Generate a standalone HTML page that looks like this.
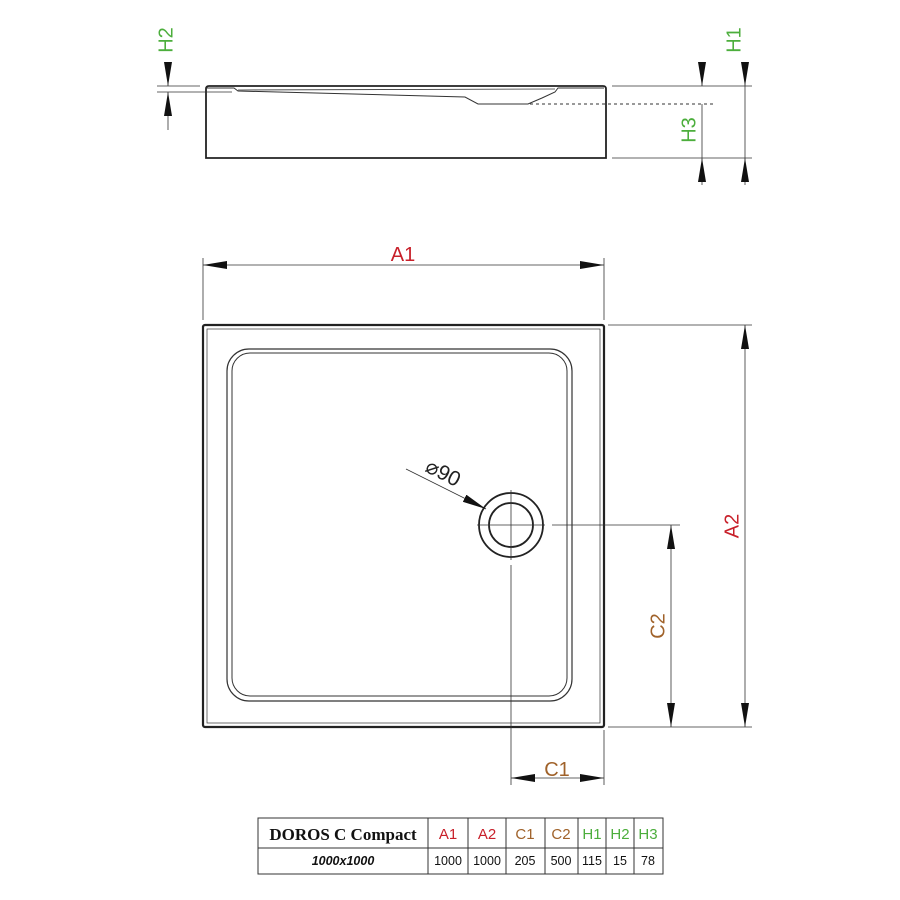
<!DOCTYPE html>
<html><head><meta charset="utf-8"><style>body{margin:0;background:#fff}svg{display:block}</style></head><body>
<svg width="900" height="900" viewBox="0 0 900 900" xmlns="http://www.w3.org/2000/svg" font-family="Liberation Sans, sans-serif">
<defs>
<marker id="al" viewBox="0 0 24 8" refX="24" refY="4" markerWidth="24" markerHeight="8" orient="auto-start-reverse" markerUnits="userSpaceOnUse"><path d="M0,0L24,4L0,8z" fill="#111"/></marker>
</defs>
<g stroke="#333" fill="none">
<path d="M206,158 L206,89 Q206,86 209,86 L603,86 Q606,86 606,89 L606,158 Z" stroke-width="1.8" stroke="#222"/>
<path d="M206,88 L234,88 L238,91 L465,97 L478,104 L528,104 L542,98 L555,92 L558,88 L604,88" stroke-width="1"/>
<path d="M238,90 L555,89" stroke-width="0.8"/>
<line x1="530" y1="104" x2="716" y2="104" stroke-dasharray="3,3" stroke-width="1"/>
<line x1="612" y1="86" x2="752" y2="86" stroke-width="0.8"/>
<line x1="612" y1="158" x2="752" y2="158" stroke-width="0.8"/>
<line x1="157" y1="86" x2="200" y2="86" stroke-width="0.8"/>
<line x1="157" y1="92" x2="232" y2="92" stroke-width="0.8"/>
<line x1="168" y1="68" x2="168" y2="86" marker-end="url(#al)" stroke-width="0.8"/>
<line x1="168" y1="130" x2="168" y2="92" marker-end="url(#al)" stroke-width="0.8"/>
<line x1="702" y1="68" x2="702" y2="86" marker-end="url(#al)" stroke-width="0.8"/>
<line x1="702" y1="104" x2="702" y2="158" stroke-width="0.8"/>
<line x1="702" y1="185" x2="702" y2="158" marker-end="url(#al)" stroke-width="0.8"/>
<line x1="745" y1="62" x2="745" y2="86" marker-end="url(#al)" stroke-width="0.8"/>
<line x1="745" y1="86" x2="745" y2="158" stroke-width="0.8"/>
<line x1="745" y1="185" x2="745" y2="158" marker-end="url(#al)" stroke-width="0.8"/>
<rect x="203" y="325" width="401" height="402" rx="2" stroke-width="2.2" stroke="#222"/>
<rect x="207" y="329" width="393" height="394" stroke-width="0.7"/>
<rect x="227" y="349" width="345" height="352" rx="22" stroke-width="1.2"/>
<rect x="232" y="353" width="335" height="343" rx="18" stroke-width="1"/>
<circle cx="511" cy="525" r="32" stroke-width="1.8" stroke="#222"/>
<circle cx="511" cy="525" r="22" stroke-width="1.8" stroke="#222"/>
<line x1="477" y1="525" x2="545" y2="525" stroke-width="0.8"/>
<line x1="511" y1="490" x2="511" y2="560" stroke-width="0.8"/>
<line x1="552" y1="525" x2="680" y2="525" stroke-width="0.8"/>
<line x1="511" y1="565" x2="511" y2="785" stroke-width="0.8"/>
<line x1="406" y1="469" x2="486" y2="509" marker-end="url(#al)" stroke-width="0.8"/>
<line x1="203" y1="258" x2="203" y2="320" stroke-width="0.8"/>
<line x1="604" y1="258" x2="604" y2="320" stroke-width="0.8"/>
<line x1="203" y1="265" x2="604" y2="265" marker-start="url(#al)" marker-end="url(#al)" stroke-width="0.8"/>
<line x1="608" y1="325" x2="752" y2="325" stroke-width="0.8"/>
<line x1="608" y1="727" x2="752" y2="727" stroke-width="0.8"/>
<line x1="745" y1="325" x2="745" y2="727" marker-start="url(#al)" marker-end="url(#al)" stroke-width="0.8"/>
<line x1="671" y1="525" x2="671" y2="727" marker-start="url(#al)" marker-end="url(#al)" stroke-width="0.8"/>
<line x1="604" y1="730" x2="604" y2="785" stroke-width="0.8"/>
<line x1="511" y1="778" x2="604" y2="778" marker-start="url(#al)" marker-end="url(#al)" stroke-width="0.8"/>
</g>
<g font-size="20">
<text x="167" y="40" fill="#4cae3c" transform="rotate(-90 167 40)" text-anchor="middle" dominant-baseline="middle">H2</text>
<text x="735" y="40" fill="#4cae3c" transform="rotate(-90 735 40)" text-anchor="middle" dominant-baseline="middle">H1</text>
<text x="690" y="130" fill="#4cae3c" transform="rotate(-90 690 130)" text-anchor="middle" dominant-baseline="middle">H3</text>
<text x="403" y="261" fill="#c8202a" text-anchor="middle">A1</text>
<text x="733" y="526" fill="#c8202a" transform="rotate(-90 733 526)" text-anchor="middle" dominant-baseline="middle">A2</text>
<text x="659" y="626" fill="#a0622a" transform="rotate(-90 659 626)" text-anchor="middle" dominant-baseline="middle">C2</text>
<text x="557" y="776" fill="#a0622a" text-anchor="middle">C1</text>
<text x="440" y="479" fill="#222" font-size="21" transform="rotate(27 440 479)" text-anchor="middle">⌀90</text>
</g>
<g stroke="#333" stroke-width="1" fill="none">
<rect x="258" y="818" width="405" height="56"/>
<line x1="258" y1="848" x2="663" y2="848"/>
<line x1="428" y1="818" x2="428" y2="874"/>
<line x1="468" y1="818" x2="468" y2="874"/>
<line x1="506" y1="818" x2="506" y2="874"/>
<line x1="545" y1="818" x2="545" y2="874"/>
<line x1="578" y1="818" x2="578" y2="874"/>
<line x1="606" y1="818" x2="606" y2="874"/>
<line x1="634" y1="818" x2="634" y2="874"/>
</g>
<g font-size="15" text-anchor="middle">
<text x="343" y="840" font-family="Liberation Serif, serif" font-weight="bold" font-size="17" fill="#111">DOROS C Compact</text>
<text x="448" y="839" fill="#c8202a">A1</text>
<text x="487" y="839" fill="#c8202a">A2</text>
<text x="525" y="839" fill="#a0622a">C1</text>
<text x="561" y="839" fill="#a0622a">C2</text>
<text x="592" y="839" fill="#4cae3c">H1</text>
<text x="620" y="839" fill="#4cae3c">H2</text>
<text x="648" y="839" fill="#4cae3c">H3</text>
<g font-size="12.5" fill="#111">
<text x="343" y="865" font-style="italic" font-weight="bold">1000x1000</text>
<text x="448" y="865">1000</text>
<text x="487" y="865">1000</text>
<text x="525" y="865">205</text>
<text x="561" y="865">500</text>
<text x="592" y="865">115</text>
<text x="620" y="865">15</text>
<text x="648" y="865">78</text>
</g>
</g>
</svg>
</body></html>
